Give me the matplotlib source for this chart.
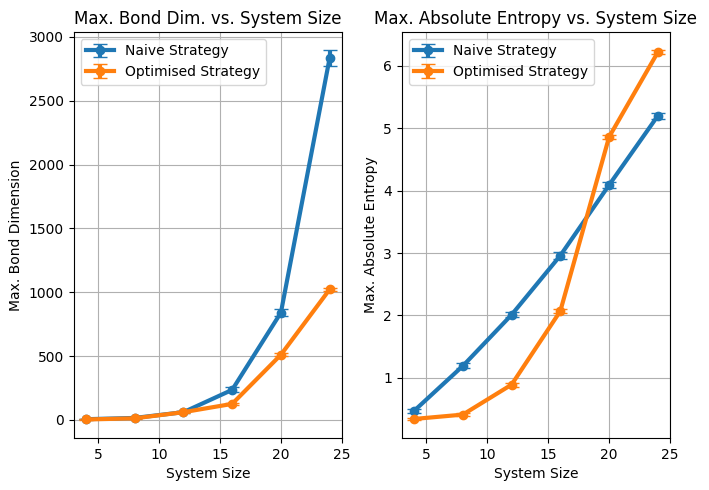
import matplotlib.pyplot as plt

sizes = [4, 8, 12, 16, 20, 24]

naive_bond = [5, 15, 60, 235, 840, 2835]
naive_bond_err = [2, 4, 8, 20, 30, 60]
opt_bond = [3, 12, 60, 125, 510, 1022]
opt_bond_err = [1, 3, 6, 8, 10, 12]

naive_ent = [0.47, 1.19, 2.01, 2.96, 4.09, 5.20]
naive_ent_err = [0.03, 0.04, 0.04, 0.05, 0.05, 0.05]
opt_ent = [0.34, 0.41, 0.89, 2.07, 4.86, 6.22]
opt_ent_err = [0.01, 0.02, 0.03, 0.03, 0.03, 0.03]

fig, (ax1, ax2) = plt.subplots(1, 2, figsize=(7.09, 4.9))

ax1.errorbar(sizes, naive_bond, yerr=naive_bond_err, marker="o", lw=3, capsize=5, label="Naive Strategy")
ax1.errorbar(sizes, opt_bond, yerr=opt_bond_err, marker="o", lw=3, capsize=5, label="Optimised Strategy")
ax1.set_xlabel("System Size")
ax1.set_ylabel("Max. Bond Dimension")
ax1.set_title("Max. Bond Dim. vs. System Size")
ax1.legend(loc="upper left")
ax1.grid()

ax2.errorbar(sizes, naive_ent, yerr=naive_ent_err, marker="o", lw=3, capsize=5, label="Naive Strategy")
ax2.errorbar(sizes, opt_ent, yerr=opt_ent_err, marker="o", lw=3, capsize=5, label="Optimised Strategy")
ax2.set_xlabel("System Size")
ax2.set_ylabel("Max. Absolute Entropy")
ax2.set_title("Max. Absolute Entropy vs. System Size")
ax2.legend(loc="upper left")
ax2.grid()

plt.subplots_adjust(left=0.104, right=0.945, bottom=0.106, top=0.935, wspace=0.224)
plt.savefig("out.png", dpi=100)
